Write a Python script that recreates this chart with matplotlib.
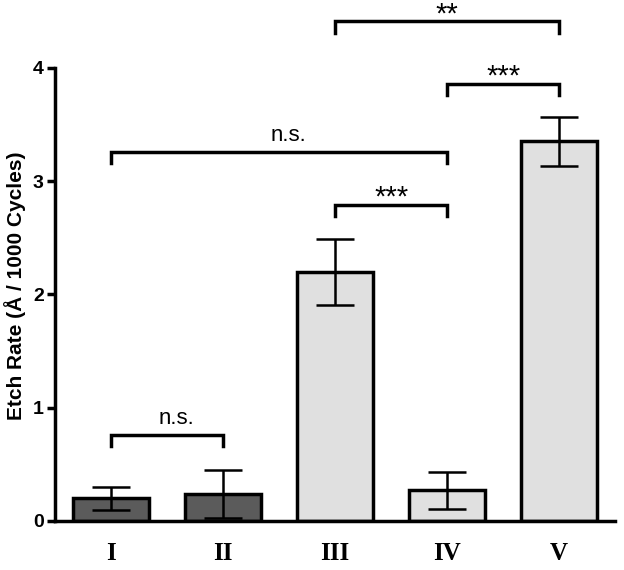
import numpy as np
import matplotlib
matplotlib.use("Agg")
import matplotlib.pyplot as plt

# --- data ---
groups = ["I", "II", "III", "IV", "V"]
rates = [0.20, 0.24, 2.20, 0.27, 3.35]
errs = [0.10, 0.21, 0.29, 0.16, 0.215]
bar_colors = ["#5b5b5b", "#5b5b5b", "#e0e0e0", "#e0e0e0", "#e0e0e0"]

# significance brackets: (left group, right group, bracket height, label)
brackets = [
    (0, 1, 0.76, "n.s."),
    (2, 3, 2.79, "***"),
    (0, 3, 3.26, "n.s."),
    (3, 4, 3.86, "***"),
    (2, 4, 4.41, "**"),
]

plt.rcParams["font.family"] = ["Liberation Sans", "DejaVu Sans"]

fig = plt.figure(figsize=(6.24, 5.70), dpi=100)
ax = fig.add_axes([0.088, 0.086, 0.898, 0.795])

x = np.arange(len(groups))
ax.bar(x, rates, width=0.68, color=bar_colors, edgecolor="black", linewidth=2.5, zorder=2)
ax.errorbar(x, rates, yerr=errs, fmt="none", ecolor="black", elinewidth=1.8,
            capsize=13.5, capthick=1.8, zorder=3)

ax.set_xlim(-0.5, 4.5)
ax.set_ylim(0, 4)
ax.set_yticks([0, 1, 2, 3, 4])
ax.set_yticklabels(["0", "1", "2", "3", "4"], fontsize=14, fontweight="bold")
ax.set_xticks(x)
ax.set_xticklabels(groups, fontsize=18, fontweight="bold", family="Liberation Serif")
ax.tick_params(axis="x", length=0, pad=15)
ax.tick_params(axis="y", length=6, width=2.5, direction="out", pad=2)
ax.set_ylabel("Etch Rate (Å / 1000 Cycles)", fontsize=15, fontweight="bold")
ax.yaxis.set_label_coords(-0.052, 0.52)

for side in ["top", "right"]:
    ax.spines[side].set_visible(False)
for side in ["left", "bottom"]:
    ax.spines[side].set_linewidth(2.5)

# brackets with labels
for a, b, h, txt in brackets:
    drop = 0.1
    ax.plot([a, a, b, b], [h - drop, h, h, h - drop], color="black", linewidth=2.5,
            clip_on=False, solid_joinstyle="miter")
    if txt.startswith("*"):
        ax.text((a + b) / 2, h - 0.06, txt, ha="center", va="bottom", fontsize=21,
                clip_on=False)
    else:
        ax.text((a + b) / 2 + 0.08, h + 0.05, txt, ha="center", va="bottom",
                fontsize=16, clip_on=False)

fig.savefig("out.png", dpi=100)
